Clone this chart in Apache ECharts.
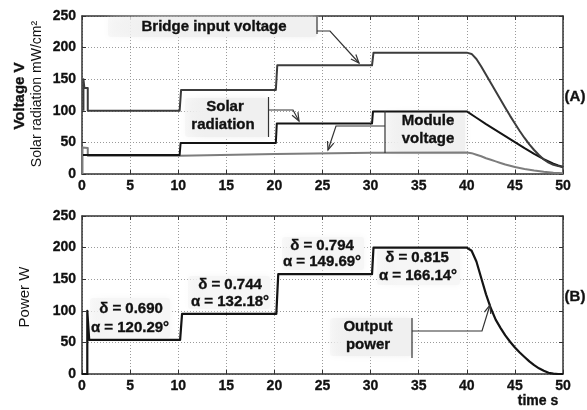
<!DOCTYPE html>
<html>
<head>
<meta charset="utf-8">
<script src="https://cdn.jsdelivr.net/npm/echarts@6/dist/echarts.min.js"></script>
<style>
  html, body { margin: 0; padding: 0; background: #fff; }
  #chart { width: 587px; height: 410px; }
</style>
</head>
<body>
<div id="chart"></div>
<script>
// Axis ranges and ticks
const timeTicks = [0, 5, 10, 15, 20, 25, 30, 35, 40, 45, 50];
const levelTicks = [0, 50, 100, 150, 200, 250];

// Panel (A): [time s, value]
const bridgeVoltage = [
  [0.15, 100], [0.15, 150], [0.25, 136], [0.6, 136], [0.6, 100],
  [10.15, 100], [10.3, 133], [20.15, 133], [20.3, 172], [30.15, 172], [30.3, 192],
  [40, 192], [40.5, 190], [41, 182], [41.5, 170], [42, 157], [42.5, 144], [43, 131],
  [43.5, 118], [44, 105], [44.5, 92], [45, 80], [45.5, 68], [46, 57], [46.5, 47],
  [47, 38], [47.5, 30], [48, 23], [48.5, 18], [49, 14.5], [49.5, 12.5], [50, 11]
];
const solarRadiation = [
  [0.1, 30], [10.15, 30], [10.25, 49], [20.15, 49], [20.25, 80], [30.15, 80], [30.25, 99],
  [40, 99], [41, 89], [42, 79], [43, 69.5], [44, 60], [45, 50.5], [46, 41], [47, 32],
  [48, 23.5], [48.5, 20], [49, 16.5], [49.5, 13.5], [50, 11]
];
const moduleVoltage = [
  [0.05, 0], [0.05, 42], [0.6, 41], [0.6, 29], [10.15, 29], [10.25, 31.5], [20.15, 31.5],
  [20.25, 33.5], [30.15, 33.5], [30.25, 34], [40, 34], [40.5, 33], [41, 30.5], [41.5, 28],
  [42, 25], [42.5, 22.5], [43, 20], [43.5, 17.5], [44, 15], [44.5, 13], [45, 11], [46, 8],
  [47, 5.5], [48, 3.5], [49, 2], [50, 1]
];

// Panel (B): [time s, power W]
const outputPower = [
  [0, 0], [0.55, 0], [0.55, 100], [0.75, 100], [0.75, 54], [10.2, 54], [10.4, 95],
  [20.2, 95], [20.4, 158], [30.15, 158], [30.3, 200], [40, 200], [40.5, 195], [41, 178],
  [41.5, 152], [42, 126], [42.5, 104], [43, 86], [43.5, 73], [44, 61], [44.5, 51], [45, 42],
  [45.5, 34], [46, 27], [46.5, 20], [47, 14], [47.5, 9], [48, 5], [48.5, 2], [49, 0.5],
  [49.5, 0], [50, 0]
];

// Operating point notes for each irradiance step
const stepNotes = [
  ['\u03b4 = 0.690', '\u03b1 = 120.29\u00b0'],
  ['\u03b4 = 0.744', '\u03b1 = 132.18\u00b0'],
  ['\u03b4 = 0.794', '\u03b1 = 149.69\u00b0'],
  ['\u03b4 = 0.815', '\u03b1 = 166.14\u00b0']
];

const FONT = '"Liberation Sans", Arial, sans-serif';
const INK = '#111';

const chart = echarts.init(document.getElementById('chart'), null, { renderer: 'canvas' });

function mainX(grid) {
  return {
    gridIndex: grid, type: 'value', min: timeTicks[0], max: timeTicks[timeTicks.length - 1],
    interval: timeTicks[1] - timeTicks[0],
    axisLine: { show: true, onZero: false, lineStyle: { color: '#333', width: 1.5 } },
    axisTick: { show: true, inside: true, length: 4, lineStyle: { color: '#333' } },
    axisLabel: { color: INK, fontFamily: FONT, fontWeight: 'bold', fontSize: 14, margin: 5,
      textBorderColor: INK, textBorderWidth: 0.3 },
    splitLine: { show: true, lineStyle: { color: '#9a9a9a', type: [1, 2], width: 1 } }
  };
}
function frameX(grid) {
  return {
    gridIndex: grid, type: 'value', position: 'top', min: timeTicks[0],
    max: timeTicks[timeTicks.length - 1], interval: timeTicks[1] - timeTicks[0],
    axisLine: { show: true, onZero: false, lineStyle: { color: '#333', width: 1.5 } },
    axisTick: { show: true, inside: true, length: 4, lineStyle: { color: '#333' } },
    axisLabel: { show: false }, splitLine: { show: false }
  };
}
function mainY(grid) {
  return {
    gridIndex: grid, type: 'value', min: levelTicks[0], max: levelTicks[levelTicks.length - 1],
    interval: levelTicks[1] - levelTicks[0],
    axisLine: { show: true, onZero: false, lineStyle: { color: '#333', width: 1.5 } },
    axisTick: { show: true, inside: true, length: 4, lineStyle: { color: '#333' } },
    axisLabel: { color: INK, fontFamily: FONT, fontWeight: 'bold', fontSize: 14, margin: 6,
      textBorderColor: INK, textBorderWidth: 0.3 },
    splitLine: { show: true, lineStyle: { color: '#9a9a9a', type: [1, 2], width: 1 } }
  };
}
function frameY(grid) {
  return {
    gridIndex: grid, type: 'value', position: 'right', min: levelTicks[0],
    max: levelTicks[levelTicks.length - 1], interval: levelTicks[1] - levelTicks[0],
    axisLine: { show: true, onZero: false, lineStyle: { color: '#333', width: 1.5 } },
    axisTick: { show: true, inside: true, length: 4, lineStyle: { color: '#333' } },
    axisLabel: { show: false }, splitLine: { show: false }
  };
}

function curve(name, data, xi, yi, color, width) {
  return {
    name, type: 'line', data, xAxisIndex: xi, yAxisIndex: yi,
    showSymbol: false, symbol: 'none', animation: false, z: 3,
    lineStyle: { color, width, join: 'round' }
  };
}

// Annotation helpers (pixel layout)
const PEN = { stroke: '#333', lineWidth: 1.2, fill: null };
function line(points) {
  return { type: 'polyline', shape: { points }, style: PEN, z: 20, silent: true };
}
function arrow(from, tip) {
  const a = Math.atan2(tip[1] - from[1], tip[0] - from[0]);
  const len = 9, spread = 0.38;
  return line([
    [tip[0] - len * Math.cos(a - spread), tip[1] - len * Math.sin(a - spread)],
    tip,
    [tip[0] - len * Math.cos(a + spread), tip[1] - len * Math.sin(a + spread)]
  ]);
}
function box(x, y, w, h, tone) {
  const c = tone || '#f0f0f0';
  return {
    type: 'rect', shape: { x, y, width: w, height: h, r: 3 }, z: 1, silent: true,
    style: {
      fill: new echarts.graphic.LinearGradient(0, 0, 1, 0, [
        { offset: 0, color: 'rgba(240,240,240,0.4)' },
        { offset: 0.25, color: c },
        { offset: 1, color: c }
      ]),
      shadowBlur: 6, shadowColor: c
    }
  };
}
function label(text, x, y, size, weight, rotation) {
  return {
    type: 'text', x, y, rotation: rotation || 0, z: 30, silent: true,
    style: {
      text, fill: INK, font: (weight || 'bold') + ' ' + (size || 15) + 'px ' + FONT,
      align: 'center', verticalAlign: 'middle',
      stroke: (weight || 'bold') === 'bold' ? INK : null, lineWidth: 0.35
    }
  };
}

const NOTE_BG = '#f6f6f6';
const graphics = [
  // Panel (A) notes
  box(108, 17, 209, 20),
  label('Bridge input voltage', 214, 27),
  line([[317, 17], [317, 34]]),
  line([[317, 31], [330, 31], [359, 63]]),
  arrow([330, 31], [359, 63]),

  box(185, 98, 83, 39),
  label('Solar', 225, 107),
  label('radiation', 223, 125),
  line([[268.5, 97], [268.5, 137]]),
  line([[269, 110], [293, 110], [299, 121]]),
  arrow([293, 110], [299, 121]),

  box(386, 112, 79, 41),
  label('Module', 428, 121),
  label('voltage', 428, 139),
  line([[385, 111], [385, 153]]),
  line([[385, 126], [336, 126], [328, 150]]),
  arrow([336, 126], [328, 150]),

  label('(A)', 575, 97),

  // Panel (B) notes
  box(90, 298, 80, 40, NOTE_BG),
  label(stepNotes[0][0], 131, 309),
  label(stepNotes[0][1], 130, 328),
  box(188, 276, 82, 33, NOTE_BG),
  label(stepNotes[1][0], 230, 285),
  label(stepNotes[1][1], 230, 302),
  box(282, 237, 82, 33, NOTE_BG),
  label(stepNotes[2][0], 322, 246),
  label(stepNotes[2][1], 322, 262),
  box(377, 249, 83, 36, NOTE_BG),
  label(stepNotes[3][0], 417, 258),
  label(stepNotes[3][1], 418, 276),

  box(330, 318, 82, 38),
  label('Output', 368, 327),
  label('power', 368, 345),
  line([[412, 318], [412, 358]]),
  line([[412, 331], [482, 331], [490, 305]]),
  arrow([482, 331], [490, 305]),

  label('(B)', 575, 297),
  label('time s', 538, 401, 14),

  // Axis titles
  label('Voltage V', 20, 96, 15, 'bold', Math.PI / 2),
  label('Solar radiation mW/cm\u00b2', 37, 94, 14, 'normal', Math.PI / 2),
  label('Power W', 25, 297, 15, 'normal', Math.PI / 2)
];

chart.setOption({
  animation: false,
  backgroundColor: '#fff',
  grid: [
    { left: 82, top: 16, width: 481, height: 158 },
    { left: 82, top: 216, width: 481, height: 158 }
  ],
  xAxis: [mainX(0), frameX(0), mainX(1), frameX(1)],
  yAxis: [mainY(0), frameY(0), mainY(1), frameY(1)],
  series: [
    curve('Module voltage', moduleVoltage, 0, 0, '#7d7d7d', 2),
    curve('Solar radiation', solarRadiation, 0, 0, '#141414', 2),
    curve('Bridge input voltage', bridgeVoltage, 0, 0, '#3c3c3c', 2),
    curve('Output power', outputPower, 2, 2, '#141414', 2.2)
  ],
  graphic: graphics
});
</script>
</body>
</html>
